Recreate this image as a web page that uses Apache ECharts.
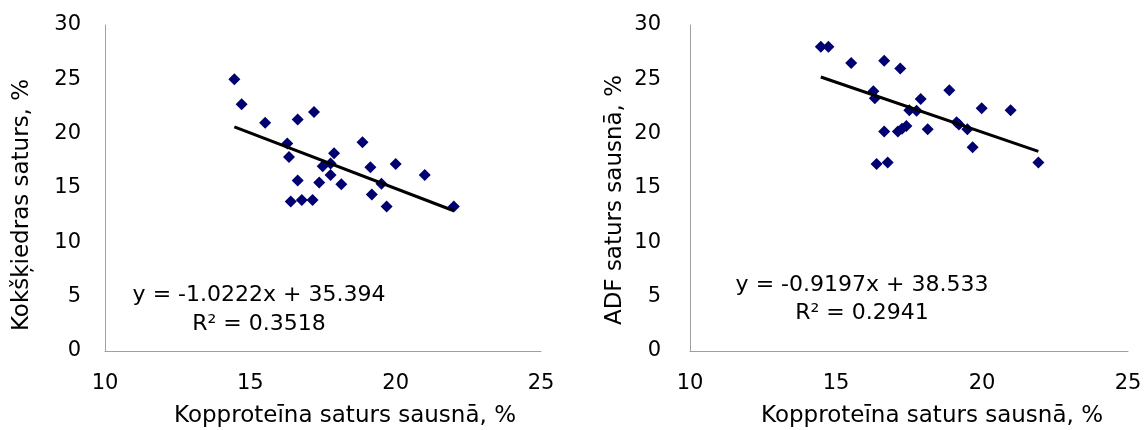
<!DOCTYPE html>
<html>
<head>
<meta charset="utf-8">
<script src="https://cdn.jsdelivr.net/npm/echarts@6/dist/echarts.min.js"></script>
<style>
html,body{margin:0;padding:0;background:#fff;}
#c{width:1146px;height:430px;}
</style>
</head>
<body>
<div id="c"></div>
<script>
// Data
const xTicks = [10, 15, 20, 25];
const yTicks = [0, 5, 10, 15, 20, 25, 30];
const xLeft = [14.45,14.70,15.51,16.63,17.19,16.27,16.33,16.63,16.39,16.77,17.14,17.37,17.49,17.76,17.88,17.76,18.13,18.86,19.13,19.51,19.18,19.69,20.0,21.0,22.0];
const yLeft = [25.0,22.7,21.0,21.3,22.0,19.1,17.85,15.7,13.75,13.9,13.9,15.5,17.0,17.25,18.2,16.2,15.35,19.2,16.9,15.4,14.4,13.3,17.2,16.2,13.3];
const xRight = [14.48,14.74,15.52,16.65,17.2,16.28,16.33,16.65,16.39,16.77,17.12,17.26,17.41,17.51,17.76,17.9,18.14,18.88,19.13,19.21,19.5,19.68,19.99,20.98,21.93];
const yRight = [28.0,28.0,26.5,26.7,26.0,23.9,23.25,20.2,17.2,17.35,20.2,20.45,20.7,22.15,22.1,23.2,20.4,24.0,21.05,20.85,20.4,18.75,22.35,22.15,17.35];
const slopes = [-1.0222, -0.9197];
const intercepts = [35.394, 38.533];
const r2 = ['0.3518', '0.2941'];
const xTitle = 'Kopproteīna saturs sausnā, %';
const yTitles = ['Kokšķiedras saturs, %', 'ADF saturs sausnā, %'];

const FONT = 'DejaVu Sans';
const pts = (xs, ys) => xs.map((x, i) => [x, ys[i]]);
const trend = (xs, k) => {
  const lo = Math.min(...xs), hi = Math.max(...xs);
  return [[lo, slopes[k] * lo + intercepts[k]], [hi, slopes[k] * hi + intercepts[k]]];
};
const eqText = k => 'y = ' + slopes[k] + 'x + ' + intercepts[k].toFixed(3) + '\nR² = ' + r2[k];

const axisLine = {show: true, lineStyle: {color: '#a0a0a0', width: 1}};
function xAxis(gi) {
  return {type: 'value', gridIndex: gi, min: xTicks[0], max: xTicks[xTicks.length-1], interval: 5,
    axisLine: axisLine, axisTick: {show: false}, splitLine: {show: false},
    axisLabel: {color: '#000', fontFamily: FONT, fontSize: 21, margin: 22, showMinLabel: true, showMaxLabel: true}};
}
function yAxis(gi, margin) {
  return {type: 'value', gridIndex: gi, min: yTicks[0], max: yTicks[yTicks.length-1], interval: 5,
    axisLine: axisLine, axisTick: {show: false}, splitLine: {show: false},
    axisLabel: {color: '#000', fontFamily: FONT, fontSize: 21, margin: margin}};
}
const markStyle = {color: '#000070', opacity: 1};
const chart = echarts.init(document.getElementById('c'), null, {renderer: 'canvas'});
chart.setOption({
  animation: false,
  backgroundColor: '#fff',
  grid: [
    {left: 105, top: 25, width: 436, height: 326},
    {left: 690, top: 25, width: 438, height: 326}
  ],
  xAxis: [xAxis(0), xAxis(1)],
  yAxis: [yAxis(0, 24), yAxis(1, 29)],
  series: [
    {type: 'scatter', xAxisIndex: 0, yAxisIndex: 0, symbol: 'diamond', symbolSize: 12, itemStyle: markStyle, data: pts(xLeft, yLeft), z: 3},
    {type: 'line', xAxisIndex: 0, yAxisIndex: 0, symbol: 'none', lineStyle: {color: '#000', width: 3}, data: trend(xLeft, 0), z: 4},
    {type: 'scatter', xAxisIndex: 1, yAxisIndex: 1, symbol: 'diamond', symbolSize: 12, itemStyle: markStyle, data: pts(xRight, yRight), z: 3},
    {type: 'line', xAxisIndex: 1, yAxisIndex: 1, symbol: 'none', lineStyle: {color: '#000', width: 3}, data: trend(xRight, 1), z: 4}
  ],
  graphic: [
    {type: 'text', x: 345, y: 416, style: {text: xTitle, font: '23px "' + FONT + '"', fill: '#000', align: 'center', verticalAlign: 'middle'}},
    {type: 'text', x: 932, y: 416, style: {text: xTitle, font: '23px "' + FONT + '"', fill: '#000', align: 'center', verticalAlign: 'middle'}},
    {type: 'text', x: 22, y: 205, rotation: Math.PI / 2, style: {text: yTitles[0], font: '23px "' + FONT + '"', fill: '#000', align: 'center', verticalAlign: 'middle'}},
    {type: 'text', x: 615, y: 200, rotation: Math.PI / 2, style: {text: yTitles[1], font: '23px "' + FONT + '"', fill: '#000', align: 'center', verticalAlign: 'middle'}},
    {type: 'text', x: 259, y: 310, style: {text: eqText(0), font: '22px "' + FONT + '"', fill: '#000', align: 'center', verticalAlign: 'middle', lineHeight: 29}},
    {type: 'text', x: 862, y: 299, style: {text: eqText(1), font: '22px "' + FONT + '"', fill: '#000', align: 'center', verticalAlign: 'middle', lineHeight: 28}}
  ]
});
</script>
</body>
</html>
